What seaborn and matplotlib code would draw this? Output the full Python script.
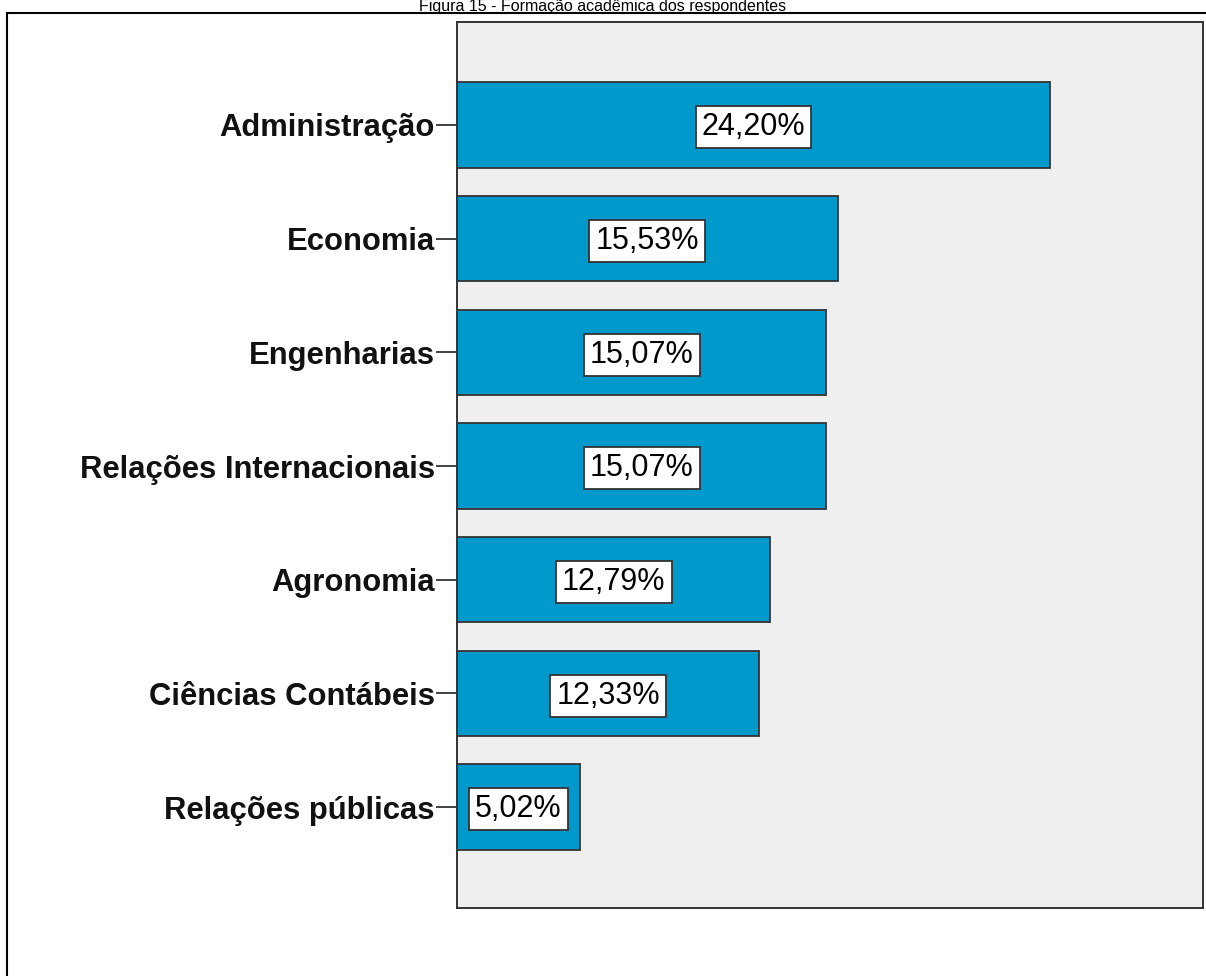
import matplotlib
matplotlib.use("Agg")
import matplotlib.pyplot as plt
import seaborn as sns
import pandas as pd
from matplotlib.lines import Line2D

categories = ["Administração", "Economia", "Engenharias", "Relações Internacionais",
              "Agronomia", "Ciências Contábeis", "Relações públicas"]
values = [24.20, 15.53, 15.07, 15.07, 12.79, 12.33, 5.02]
value_labels = ["24,20%", "15,53%", "15,07%", "15,07%", "12,79%", "12,33%", "5,02%"]
title = "Figura 15 - Formação acadêmica dos respondentes"

sns.set_style("white")
plt.rcParams["font.family"] = ["Liberation Sans", "DejaVu Sans"]

df = pd.DataFrame({"cat": categories, "val": values})

W, H = 1206, 976
fig = plt.figure(figsize=(W / 100, H / 100), dpi=100)
ax = fig.add_axes([457 / W, 1 - 908 / H, (1203 - 457) / W, (908 - 22) / H])
ax.set_facecolor("#EFEFEF")

sns.barplot(data=df, x="val", y="cat", order=categories, color="#0099CC",
            saturation=1, width=0.75, edgecolor="#333333", linewidth=1.3, ax=ax)

ax.set_xlim(0, 746 / (593 / 24.20))
ax.set_ylim(6.888, -0.906)
ax.set_xlabel("")
ax.set_ylabel("")
ax.set_xticks([])
ax.tick_params(axis="y", length=15, width=1.3, color="#333333", pad=1,
               labelsize=22.3, left=True)
for lab in ax.get_yticklabels():
    lab.set_fontweight("bold")
    lab.set_color("#111111")
for s in ax.spines.values():
    s.set_visible(True)
    s.set_color("#333333")
    s.set_linewidth(1.4)

for i, (v, t) in enumerate(zip(values, value_labels)):
    ax.text(v / 2, i + 0.02, t, ha="center", va="center", fontsize=22, color="black",
            bbox=dict(boxstyle="square,pad=0.2", facecolor="white",
                      edgecolor="#333333", linewidth=1.3))

# outer frame
fy = 1 - 13 / H
fig.add_artist(Line2D([7 / W, 7 / W], [0, fy], transform=fig.transFigure,
                      color="black", linewidth=1.5))
fig.add_artist(Line2D([7 / W, 1], [fy, fy], transform=fig.transFigure,
                      color="black", linewidth=1.5))

fig.text(603 / W, 1 - 11.5 / H, title, ha="center", va="baseline", fontsize=11.5,
         color="black")

fig.savefig("out.png", dpi=100)
